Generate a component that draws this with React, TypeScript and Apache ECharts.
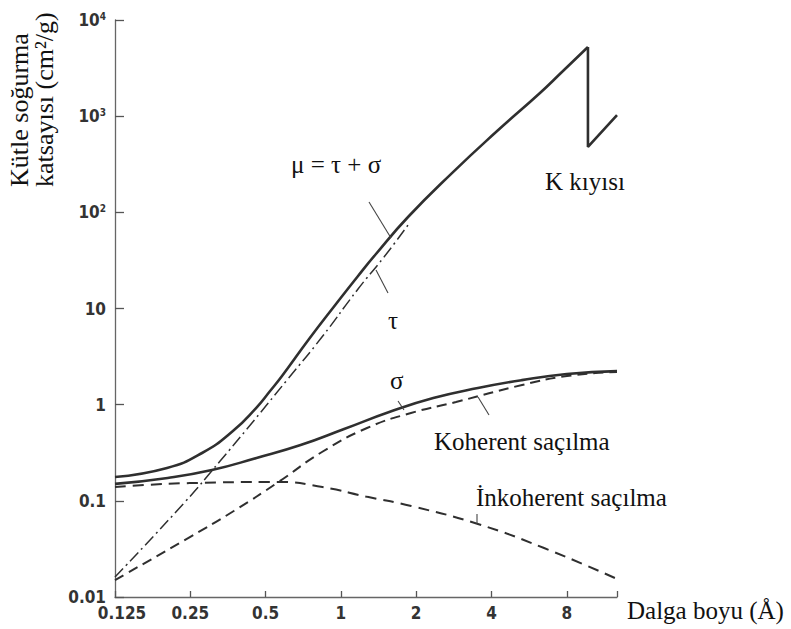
import React, { useEffect, useRef } from 'react';
import * as echarts from 'echarts';

// Wavelength (Å) and mass absorption coefficient (cm²/g)
const muX = [0.125, 0.2018, 0.2785, 0.37, 0.458, 0.521, 0.5815, 0.746, 0.956, 1.171, 1.381, 1.855, 2.78, 4.17, 6.25, 7.65, 9.72];
const muY = [0.177, 0.2195, 0.3143, 0.532, 0.923, 1.387, 1.987, 4.82, 11.14, 21.8, 36.9, 89.4, 256, 684, 1741, 2878, 5236];
const edgeX = [9.72, 9.72, 12.7];
const edgeY = [5236, 478, 1028];
const tauX = [0.125, 0.238, 0.329, 0.421, 0.609, 0.84, 1.171, 1.487, 1.855];
const tauY = [0.01614, 0.0972, 0.2596, 0.558, 1.804, 5.05, 15.95, 34.3, 73.8];
const sigmaX = [0.125, 0.203, 0.305, 0.46, 0.69, 1.03, 1.56, 2.34, 3.53, 5.29, 8.0, 12.7];
const sigmaY = [0.15, 0.173, 0.209, 0.279, 0.38, 0.558, 0.838, 1.17, 1.49, 1.8, 2.08, 2.23];
const cohX = [0.125, 0.249, 0.373, 0.563, 0.84, 1.272, 1.906, 2.885, 5.3, 8.01, 12.7];
const cohY = [0.015, 0.042, 0.0784, 0.157, 0.322, 0.572, 0.819, 1.066, 1.601, 1.986, 2.19];
const incohX = [0.125, 0.249, 0.563, 0.844, 1.275, 1.91, 3.53, 6.49, 12.7];
const incohY = [0.139, 0.153, 0.157, 0.139, 0.11, 0.0883, 0.0574, 0.0323, 0.0154];

const xTickLabels = ['0.125', '0.25', '0.5', '1', '2', '4', '8'];
const yTickLabels = ['0.01', '0.1', '1', '10', '{m|10}{s|2}', '{m|10}{s|3}', '{m|10}{s|4}'];

const LABEL_FONT = '"Liberation Sans Narrow", "DejaVu Sans Condensed", "Liberation Sans", sans-serif';
const SERIF = '"Liberation Serif", "DejaVu Serif", serif';
const INK = '#2f2f2f';

export default function App() {
  const ref = useRef<HTMLDivElement>(null);

  useEffect(() => {
    const chart = echarts.init(ref.current!, null, { renderer: 'svg' });
    const zip = (xs: number[], ys: number[]) => xs.map((x, i) => [x, ys[i]]);
    const lineSeries = (name: string, xs: number[], ys: number[], lineStyle: any, smooth: any = 0.5) => ({
      name,
      type: 'line',
      data: zip(xs, ys),
      showSymbol: false,
      symbol: 'none',
      smooth,
      clip: false,
      lineStyle: { color: INK, ...lineStyle },
      z: 3,
    });
    const text = (t: string, x: number, y: number, size = 25, extra: any = {}) => ({
      type: 'text',
      x,
      y,
      z: 100,
      style: { text: t, fontFamily: SERIF, fontSize: size, fill: '#111', align: 'left', verticalAlign: 'middle', ...extra },
    });
    const leader = (x1: number, y1: number, x2: number, y2: number) => ({
      type: 'line',
      z: 100,
      shape: { x1, y1, x2, y2 },
      style: { stroke: '#444', lineWidth: 1.1 },
    });

    chart.setOption({
      animation: false,
      backgroundColor: '#fff',
      grid: { left: 115, top: 20, right: 174, bottom: 32, containLabel: false },
      xAxis: {
        type: 'log',
        logBase: 2,
        min: 0.125,
        max: 12.7,
        splitNumber: 7,
        axisLine: { show: true, lineStyle: { color: '#666', width: 1.3 } },
        axisTick: { show: true, inside: true, length: 6, lineStyle: { color: '#555', width: 1.3 } },
        minorTick: { show: false },
        splitLine: { show: false },
        axisLabel: {
          margin: 7,
          fontFamily: LABEL_FONT,
          fontWeight: 'bold',
          fontSize: 17,
          color: '#333',
          showMinLabel: true,
          showMaxLabel: true,
          formatter: (v: number) => {
            const k = Math.log2(v / 0.125);
            const r = Math.round(k);
            if (Math.abs(k - r) > 1e-6 || r < 0 || r >= xTickLabels.length) return '';
            return r === 0 ? '{f|' + xTickLabels[r] + '}' : xTickLabels[r];
          },
          rich: {
            f: { padding: [0, 0, 0, 14], fontFamily: LABEL_FONT, fontWeight: 'bold', fontSize: 17, color: '#333' },
          },
        },
      },
      yAxis: {
        type: 'log',
        logBase: 10,
        min: 0.01,
        max: 10000,
        splitNumber: 6,
        axisLine: { show: true, lineStyle: { color: '#666', width: 1.3 } },
        axisTick: { show: true, inside: true, length: 9, lineStyle: { color: '#555', width: 1.3 } },
        minorTick: { show: false },
        splitLine: { show: false },
        axisLabel: {
          margin: 9,
          fontFamily: LABEL_FONT,
          fontWeight: 'bold',
          fontSize: 17,
          color: '#333',
          formatter: (v: number) => {
            const l = Math.log10(v);
            const e = Math.round(l);
            if (Math.abs(l - e) > 1e-6 || e < -2 || e > 4) return '';
            return yTickLabels[e + 2];
          },
          rich: {
            m: { fontFamily: LABEL_FONT, fontWeight: 'bold', fontSize: 17, color: '#333' },
            s: { fontFamily: LABEL_FONT, fontWeight: 'bold', fontSize: 10, color: '#333', verticalAlign: 'top' },
          },
        },
      },
      series: [
        lineSeries('μ = τ + σ', muX, muY, { width: 2.6, type: 'solid' }),
        lineSeries('K kıyısı', edgeX, edgeY, { width: 2.6, type: 'solid' }, false),
        lineSeries('τ', tauX, tauY, { width: 1.5, type: [12, 4, 2, 4] }),
        lineSeries('σ', sigmaX, sigmaY, { width: 2.6, type: 'solid' }),
        lineSeries('Koherent saçılma', cohX, cohY, { width: 2, type: [10, 6] }),
        lineSeries('İnkoherent saçılma', incohX, incohY, { width: 2, type: [11, 7] }),
      ],
      graphic: [
        {
          type: 'text',
          x: 32,
          y: 187,
          rotation: Math.PI / 2,
          z: 100,
          style: {
            text: 'Kütle soğurma\nkatsayısı (cm²/g)',
            fontFamily: SERIF,
            fontSize: 26,
            lineHeight: 25,
            fill: '#111',
            align: 'left',
            verticalAlign: 'middle',
          },
        },
        text('μ = τ + σ', 291, 164),
        text('K kıyısı', 545, 181),
        text('τ', 388, 320),
        text('σ', 390, 380),
        text('Koherent saçılma', 434, 441),
        text('İnkoherent saçılma', 476, 497),
        text('Dalga boyu (Å)', 627, 610),
        leader(369, 202, 391, 238),
        leader(376, 270, 388, 293),
        leader(398, 401, 404, 410),
        leader(478, 397, 489, 415),
        leader(477, 514, 477, 524),
      ],
    });
    return () => chart.dispose();
  }, []);

  return (
    <div
      ref={ref}
      style={{ position: 'absolute', left: 0, top: 0, width: 791, height: 629, background: '#fff' }}
    />
  );
}
